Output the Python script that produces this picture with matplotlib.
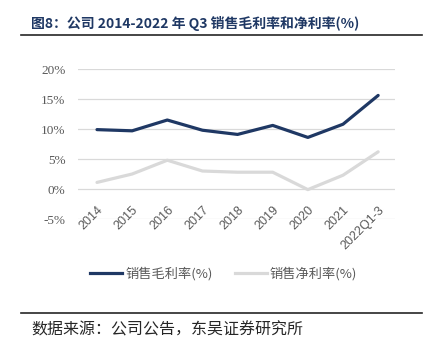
import matplotlib.pyplot as plt
from matplotlib.lines import Line2D

plt.rcParams['font.family'] = ['Noto Sans CJK SC', 'DejaVu Sans']

# --- data ---
years = ['2014', '2015', '2016', '2017', '2018', '2019', '2020', '2021', '2022Q1-3']
gross_margin = [9.9, 9.7, 11.5, 9.8, 9.1, 10.6, 8.6, 10.8, 15.6]
net_margin = [1.1, 2.5, 4.8, 3.0, 2.8, 2.8, -0.1, 2.3, 6.2]
yticks = [-5, 0, 5, 10, 15, 20]

navy = '#1F3864'
light = '#D9D9D9'

fig = plt.figure(figsize=(4.32, 3.56), dpi=100)
ax = fig.add_axes([0.1806, 0.3848, 0.7338, 0.4213])

x = list(range(len(years)))
ax.plot(x, gross_margin, color=navy, lw=2.3, solid_capstyle='round', zorder=3)
ax.plot(x, net_margin, color=light, lw=2.3, solid_capstyle='round', zorder=3)

ax.set_ylim(-5, 20)
ax.set_xlim(-0.54, 8.48)
ax.set_yticks(yticks)
ax.set_yticklabels([f'{v}%' for v in yticks], family='Liberation Serif', fontsize=9.5, color='#595959')
ax.yaxis.grid(True, color=light, lw=0.9)
ax.set_axisbelow(True)
ax.tick_params(axis='y', length=0, pad=9)

ax.set_xticks(x)
ax.set_xticklabels(years, rotation=45, ha='right', va='top', rotation_mode='anchor',
                   family='Liberation Sans', fontsize=9, color='#595959')
ax.tick_params(axis='x', length=0, pad=-11)
for s in ax.spines.values():
    s.set_visible(False)

# title and rules
fig.text(0.072, 0.935, '图8：公司 2014-2022 年 Q3 销售毛利率和净利率(%)', fontsize=10,
         fontweight='bold', color=navy, va='center', ha='left')
fig.add_artist(Line2D([0.049, 0.977], [0.902, 0.902], color='#262626', lw=1.2))
fig.add_artist(Line2D([0.049, 0.977], [0.121, 0.121], color='#262626', lw=1.2))
fig.text(0.072, 0.073, '数据来源：公司公告，东吴证券研究所', fontsize=11.5, color='#262626',
         va='center', ha='left')

handles = [Line2D([], [], color=navy, lw=2.3), Line2D([], [], color=light, lw=2.3)]
fig.legend(handles, ['销售毛利率(%)', '销售净利率(%)'], loc='center', ncol=2,
           bbox_to_anchor=(0.518, 0.23), frameon=False, fontsize=9.5, labelcolor='#595959',
           handlelength=2.4, handletextpad=0.25, columnspacing=1.7)

fig.savefig('out.png', dpi=100)
